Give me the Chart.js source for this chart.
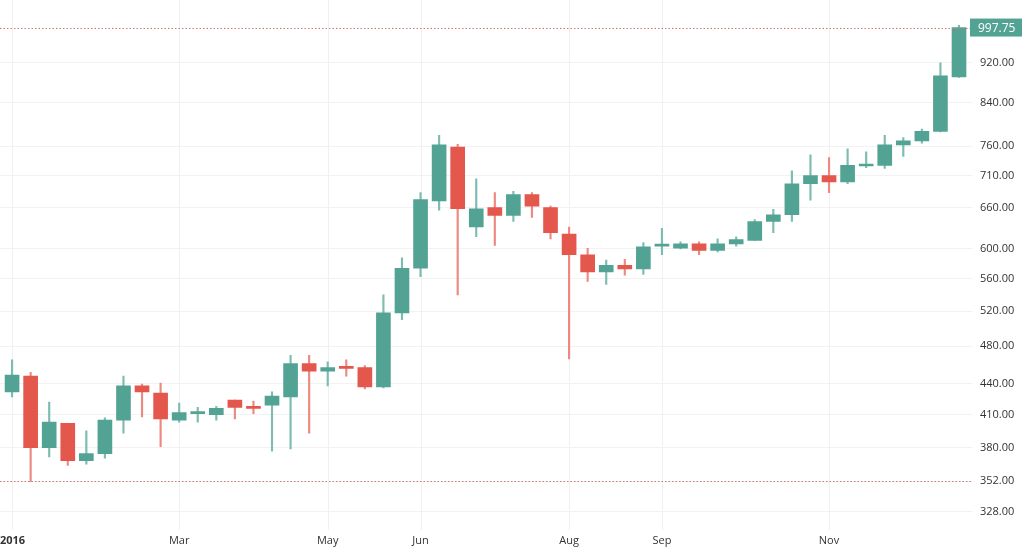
<!DOCTYPE html>
<html><head><meta charset="utf-8">
<script src="https://cdn.jsdelivr.net/npm/chart.js@4"></script>
<style>html,body{margin:0;padding:0;background:#fff;overflow:hidden}#w{width:1024px;height:550px}</style>
</head><body><div id="w"><canvas id="c"></canvas></div>
<script>
const opens  = [432,448,380,402,369,375,405,438,431,405,411,410,424,418,419,427,461,453,458,457,437,518,574,670,758,631,660,648,680,660,621,592,569,578,573,604,601,607,598,607,612,639,649,697,710,700,726,727,762,769,786,891];
const closes = [449,380,403,369,375,405,438,432,406,412,413,416,417,416,428,461,453,457,456,437,518,574,672,762,658,658,648,680,662,623,592,569,578,573,603,605,607,598,607,613,639,649,697,710,700,727,728,762,769,786,893,997.75];
const highs  = [465,452,422,402,395,407,448,440,441,421,417,418,424,423,432,470,470,463,465,459,540,588,683,779,763,705,683,685,683,662,631,601,585,586,609,629,610,610,614,617,642,657,718,745,740,755,750,779,775,790,920,1003];
const lows   = [427,351.5,372,365,366,371,393,408,381,403,403,405,406,411,377,379,393,438,448,435,436,510,563,656,540,617,605,639,645,614,466,557,553,565,566,592,600,592,596,604,612,623,639,671,683,697,723,722,742,765,785,890];
const monthIdx = [0,9,17,22,30,35,44];
const monthLbl = ['2016','Mar','May','Jun','Aug','Sep','Nov'];
const yTicks = [328,352,380,410,440,480,520,560,600,660,710,760,840,920];
const lastPrice = 997.75, lowLine = 352;

const G='#53a394', R='#e3574c', GW='#7dbcb0', RW='#ec8a82';
const up = opens.map((o,i)=>closes[i]>=o);
const bodies = opens.map((o,i)=>({x:i,y:[o,closes[i]]}));
const wicks = lows.map((l,i)=>({x:i,y:[l,highs[i]]}));

const overlay = {id:'ov',
 beforeDatasetsDraw(ch){
  const {ctx,chartArea:a,scales:{x}}=ch;
  ctx.save();ctx.strokeStyle='#f0f0f0';ctx.lineWidth=1;
  monthIdx.forEach(v=>{const p=Math.round(x.getPixelForValue(v))+0.5;ctx.beginPath();ctx.moveTo(p,0);ctx.lineTo(p,a.bottom);ctx.stroke();});
  ctx.restore();
 },
 afterDatasetsDraw(ch){
  const {ctx,chartArea:a,scales:{x,y}}=ch;
  ctx.save();ctx.setLineDash([1.5,2]);ctx.strokeStyle='#c97a78';ctx.lineWidth=1;
  [lastPrice,lowLine].forEach(v=>{const p=Math.round(y.getPixelForValue(v))+0.5;ctx.beginPath();ctx.moveTo(0,p);ctx.lineTo(a.right,p);ctx.stroke();});
  ctx.setLineDash([]);
  const p=y.getPixelForValue(lastPrice);
  ctx.fillStyle=G;ctx.fillRect(a.right-2,p-9,52,18);
  ctx.fillStyle='#fff';ctx.font='12px "Open Sans"';ctx.textBaseline='middle';ctx.textAlign='left';
  ctx.fillText(lastPrice.toFixed(2),a.right+6,p+1);
  ctx.fillStyle='#333';ctx.textAlign='center';
  monthIdx.forEach((v,i)=>{
    ctx.font=(i===0?'bold ':'')+'11px "Open Sans"';
    let px=x.getPixelForValue(v); if(i===0) px=Math.max(px,ctx.measureText(monthLbl[i]).width/2);
    ctx.fillText(monthLbl[i],px,541);
  });
  ctx.restore();
 }};

new Chart(document.getElementById('c'),{
  type:'bar',
  data:{datasets:[
    {data:wicks,backgroundColor:up.map(u=>u?GW:RW),barThickness:1.5,grouped:false,order:2},
    {data:bodies,backgroundColor:up.map(u=>u?G:R),barThickness:14,grouped:false,order:1,minBarLength:2}
  ]},
  options:{responsive:true,maintainAspectRatio:false,animation:false,
    layout:{padding:0},
    plugins:{legend:{display:false},tooltip:{enabled:false}},
    scales:{
      x:{type:'linear',min:-0.65,max:51.7,offset:false,
        grid:{display:false},border:{display:false},
        afterFit(s){s.height=20;},
        ticks:{display:false}},
      y:{type:'logarithmic',position:'right',min:314.6,max:1027.9,
        grid:{color:'#f2f2f2',drawTicks:false},border:{display:false},
        afterBuildTicks(s){s.ticks=yTicks.map(v=>({value:v}));},
        afterFit(s){s.width=52;},
        ticks:{padding:8,color:'#333',font:{family:'"Open Sans"',size:11},callback:v=>Number(v).toFixed(2)}}
    }},
  plugins:[overlay]
});
</script></body></html>
